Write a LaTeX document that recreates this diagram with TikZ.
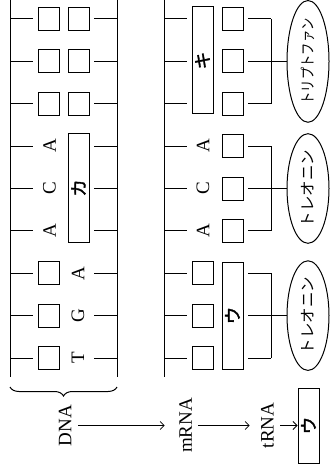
\documentclass[tikz,border=0pt]{standalone}
\usepackage{fontspec}
\setmainfont{Liberation Serif}
\newfontfamily\jp{Noto Sans CJK JP}
\newfontfamily\jpb[FakeBold=2]{Noto Sans CJK JP}
\usetikzlibrary{decorations.pathreplacing,arrows.meta,shapes.geometric}
\begin{document}
\begin{tikzpicture}[x=1pt,y=-1pt,line width=1pt,
  sq/.style={draw,minimum width=21pt,minimum height=23pt,inner sep=0pt},
  tallbox/.style={draw,rotate=90,minimum width=108pt,minimum height=21pt,inner sep=0pt,font=\jpb\fontsize{17.5}{17.5}\selectfont},
  base/.style={rotate=90,inner sep=0pt,font=\fontsize{19}{19}\selectfont},
  amino/.style={draw,ellipse,rotate=90,minimum width=104pt,minimum height=42pt,inner sep=0pt,font=\jp\fontsize{15.5}{15.5}\selectfont},
  lbl/.style={rotate=90,inner sep=0pt,font=\fontsize{19}{19}\selectfont},
  arr/.style={-{Straight Barb[length=4pt,width=8pt]},line width=0.8pt},
  brace/.style={decorate,decoration={brace,amplitude=9pt}}
]
\path[use as bounding box] (0,0) rectangle (330,465);
% rows
\def\ra{19}\def\rb{61.4}\def\rc{103.75}\def\rd{146.1}\def\re{188.5}
\def\rf{230.9}\def\rg{273.25}\def\rh{315.6}\def\ri{358}
% ---------- DNA ----------
\draw (10,0) -- (10,377);
\draw (117,0) -- (117,377);
\foreach \y in {\ra,\rb,\rc,\rd,\re,\rf,\rg,\rh,\ri}{
  \draw (10,\y) -- (33,\y);
  \draw (94,\y) -- (117,\y);
  \draw (164,\y) -- (187,\y);
  \draw (248,\y) -- (271,\y);
}
\node[sq] (d11) at (48.5,\ra) {};
\node[sq] (d12) at (78.5,\ra) {};
\node[sq] (d21) at (48.5,\rb) {};
\node[sq] (d22) at (78.5,\rb) {};
\node[sq] (d31) at (48.5,\rc) {};
\node[sq] (d32) at (78.5,\rc) {};
\node[base] (d41) at (49.5,\rd) {A};
\node[base] (d51) at (49.5,\re) {C};
\node[base] (d61) at (49.5,\rf) {A};
\node[tallbox] (ka) at (78.5,188) {カ};
\node[sq] (d71) at (48.5,\rg) {};
\node[sq] (d81) at (48.5,\rh) {};
\node[sq] (d91) at (48.5,\ri) {};
\node[base] (d72) at (78,\rg) {A};
\node[base] (d82) at (78,\rh) {G};
\node[base] (d92) at (78,\ri) {T};
\draw[brace] (117,387) -- (10,387);
% ---------- mRNA ----------
\draw (164,0) -- (164,377);
\node[tallbox,minimum width=107pt] (ki) at (202.5,60.5) {キ};
\node[sq] (m12) at (232.5,\ra) {};
\node[sq] (m22) at (232.5,\rb) {};
\node[sq] (m32) at (232.5,\rc) {};
\node[base] (m41) at (203,\rd) {A};
\node[base] (m51) at (203,\re) {C};
\node[base] (m61) at (203,\rf) {A};
\node[sq] (m42) at (232.5,\rd) {};
\node[sq] (m52) at (232.5,\re) {};
\node[sq] (m62) at (232.5,\rf) {};
\node[sq] (m71) at (202.5,\rg) {};
\node[sq] (m81) at (202.5,\rh) {};
\node[sq] (m91) at (202.5,\ri) {};
\node[tallbox,minimum width=107pt] (u) at (232.5,315.5) {ウ};
% ---------- amino acids ----------
\node[amino] (e1) at (308,\rb) {\fontsize{15}{15}\selectfont\scalebox{0.82}[1]{トリプトファン}};
\node[amino] (e2) at (308,\re) {トレオニン};
\node[amino] (e3) at (308,\rh) {トレオニン};
\draw (271,\ra) -- (271,\rc);
\draw (271,\rd) -- (271,\rf);
\draw (271,\rg) -- (271,\ri);
\draw (271,\rb) -- (e1);
\draw (271,\re) -- (e2);
\draw (271,\rh) -- (e3);
% ---------- bottom row ----------
\node[lbl] (DNA) at (65,425.5) {DNA};
\node[lbl] (mRNA) at (185.5,425.5) {mRNA};
\node[lbl] (tRNA) at (267.5,425.5) {tRNA};
\node[tallbox,minimum width=75pt] (T) at (308.5,425.5) {ウ};
\draw[arr,shorten <=6.5pt,shorten >=14pt] (DNA.south) -- (mRNA.north);
\draw[arr,shorten <=6pt,shorten >=11pt] (mRNA.south) -- (tRNA.north);
\draw[arr,shorten <=6pt] (tRNA.south) -- (T);
\end{tikzpicture}
\end{document}
